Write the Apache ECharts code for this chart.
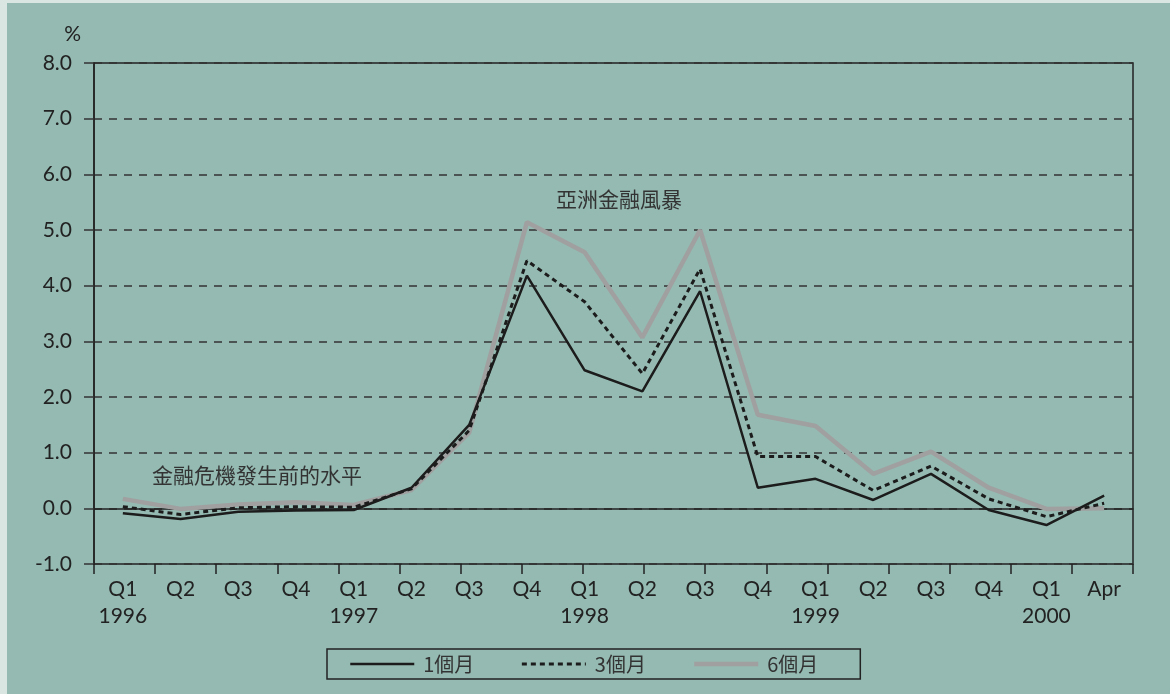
<!DOCTYPE html>
<html><head><meta charset="utf-8">
<script src="https://cdn.jsdelivr.net/npm/echarts@6/dist/echarts.min.js"></script>
<style>html,body{margin:0;padding:0;background:#d9e6e2}#c{width:1170px;height:694px}</style>
</head><body><div id="c"></div>
<script>
const categories = ["Q1\n1996","Q2","Q3","Q4","Q1\n1997","Q2","Q3","Q4","Q1\n1998","Q2","Q3","Q4","Q1\n1999","Q2","Q3","Q4","Q1\n2000","Apr"];
const seriesNames = ["1個月","3個月","6個月"];
const m1 = [-0.09,-0.19,-0.06,-0.04,-0.03,0.37,1.50,4.18,2.48,2.10,3.90,0.37,0.53,0.15,0.62,-0.03,-0.30,0.23];
const m3 = [0.03,-0.11,0.01,0.03,0.02,0.35,1.40,4.45,3.71,2.42,4.30,0.93,0.93,0.32,0.76,0.17,-0.15,0.09];
const m6 = [0.17,-0.01,0.07,0.11,0.06,0.33,1.36,5.14,4.60,3.07,5.00,1.68,1.48,0.62,1.02,0.37,-0.01,0.00];
const yTicks = {min:-1, max:8, interval:1};
const tickSlots = new Array(17).fill("");
const notes = ["亞洲金融風暴","金融危機發生前的水平"];

const sansFont = 'Lato, "Open Sans", sans-serif';
const cjkFont = '"Noto Sans CJK TC", "Noto Sans CJK SC", sans-serif';
const ink = '#222';
const styles = [
  {color:'#1c1c1c', width:2.5, type:'solid'},
  {color:'#1c1c1c', width:3, type:[5,4]},
  {color:'#a0a0a0', width:4.5, type:'solid'}
];

const chart = echarts.init(document.getElementById('c'), null, {renderer:'canvas'});
chart.setOption({
  animation:false,
  backgroundColor:'#d9e6e2',
  graphic:[
    {type:'rect', left:7, top:3, shape:{width:1163, height:691}, style:{fill:'#94bab1'}, z:-10, silent:true},
    {type:'text', left:556, top:189, style:{text:notes[0], font:'21px '+cjkFont, fill:'#333'}, z:10},
    {type:'text', left:152, top:465, style:{text:notes[1], font:'21px '+cjkFont, fill:'#333'}, z:10}
  ],
  grid:{left:94, right:37, top:63, bottom:130, show:true, borderColor:ink, borderWidth:1.5, backgroundColor:'transparent'},
  legend:{
    data:seriesNames.map((n,i)=>({name:n, lineStyle:{width:styles[i].width, color:styles[i].color, type:styles[i].type}})),
    left:327, top:649, orient:'horizontal',
    itemWidth:64, itemHeight:16, itemGap:46,
    padding:[5,42,5,22],
    borderColor:ink, borderWidth:1.5,
    itemStyle:{opacity:0},
    textStyle:{fontFamily:cjkFont, fontSize:20, color:'#333', padding:[0,0,0,4]}
  },
  xAxis:[{
    type:'category', data:categories, boundaryGap:true,
    axisLine:{lineStyle:{color:ink, width:1.5}},
    axisTick:{show:false},
    axisLabel:{fontFamily:sansFont, fontSize:21, color:ink, margin:12, lineHeight:27, interval:0}
  },{
    type:'category', data:tickSlots, boundaryGap:true, position:'bottom',
    axisLine:{show:false},
    axisTick:{show:true, length:10, lineStyle:{color:ink, width:1.5}},
    axisLabel:{show:false}
  }],
  yAxis:{
    type:'value', min:yTicks.min, max:yTicks.max, interval:yTicks.interval,
    name:'%', nameLocation:'end', nameGap:18,
    nameTextStyle:{fontFamily:sansFont, fontSize:21, color:ink, align:'right', padding:[0,13,0,0]},
    axisLine:{show:true, lineStyle:{color:ink, width:1.5}},
    axisTick:{show:true, length:10, lineStyle:{color:'#333', width:1.5}},
    axisLabel:{fontFamily:sansFont, fontSize:21, color:ink, margin:22, formatter:v=>v.toFixed(1)},
    splitLine:{show:true, lineStyle:{color:'#333', width:1.5, type:[8,7]}}
  },
  series:[
    {name:seriesNames[2], type:'line', data:m6, symbol:'none', z:2,
     lineStyle:styles[2], itemStyle:{color:styles[2].color}},
    {name:seriesNames[1], type:'line', data:m3, symbol:'none', z:3,
     lineStyle:styles[1], itemStyle:{color:styles[1].color}},
    {name:seriesNames[0], type:'line', data:m1, symbol:'none', z:4,
     lineStyle:styles[0], itemStyle:{color:styles[0].color}}
  ]
});
</script></body></html>
